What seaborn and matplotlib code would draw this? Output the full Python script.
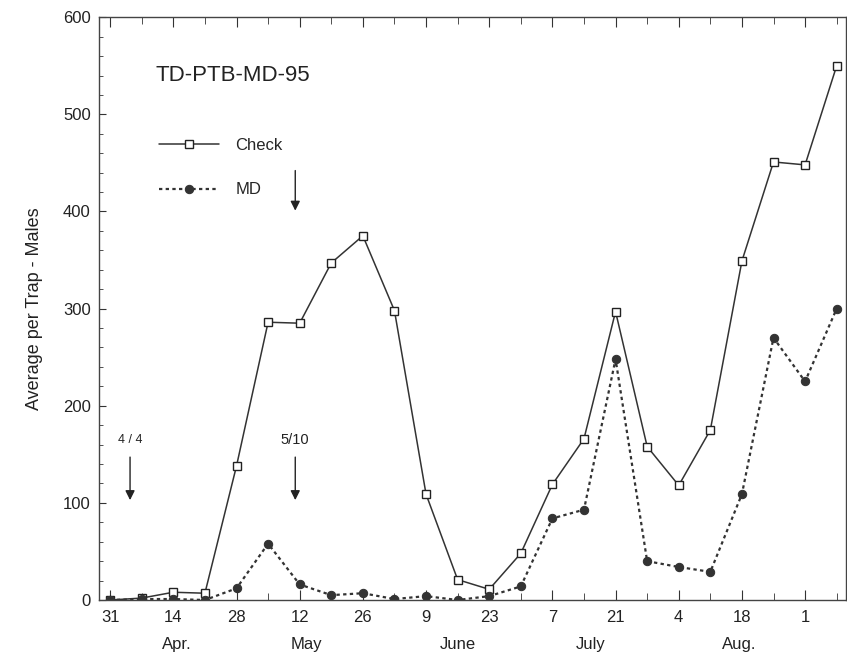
import numpy as np
import pandas as pd
import seaborn as sns
import matplotlib.pyplot as plt

# weekly trap dates (Mar 31 .. Sep 8)
week_labels = ["31", "7", "14", "21", "28", "5", "12", "19", "26", "2", "9", "16",
               "23", "30", "7", "14", "21", "28", "4", "11", "18", "25", "1", "8"]
check = [0, 2, 8, 7, 138, 286, 285, 347, 375, 298, 109, 21,
         11, 48, 119, 166, 297, 158, 118, 175, 349, 451, 448, 550]
md = [0, 1, 1, 0, 12, 58, 16, 5, 7, 1, 4, 0,
      4, 14, 84, 93, 248, 40, 34, 29, 109, 270, 225, 300]
months = ["Apr.", "May", "June", "July", "Aug."]
month_pos = [2.1, 6.2, 11.0, 15.2, 19.9]

sns.set_style("ticks")
plt.rcParams["font.family"] = ["Liberation Sans", "DejaVu Sans"]

df = pd.DataFrame({"week": np.arange(len(week_labels)), "Check": check, "MD": md})

fig = plt.figure(figsize=(8.47, 6.63), dpi=100)
ax = fig.add_axes([0.117, 0.095, 0.882, 0.879])

sns.lineplot(data=df, x="week", y="Check", ax=ax, color="#333333", lw=1.1,
             marker="s", markersize=5.8, markerfacecolor="white",
             markeredgecolor="#222222", markeredgewidth=1.0, label="Check")
sns.lineplot(data=df, x="week", y="MD", ax=ax, color="#333333", lw=1.6,
             linestyle=(0, (1.5, 1.5)), marker="o", markersize=6,
             markerfacecolor="#333333", markeredgecolor="#333333", label="MD")

ax.set_xlim(-0.35, 23.3)
ax.set_ylim(0, 600)
ax.set_xticks(df["week"][::2])
ax.set_xticklabels(week_labels[::2], fontsize=12)
ax.set_xticks(df["week"], minor=True)
ax.set_yticks(range(0, 601, 100))
ax.set_yticks(range(0, 601, 20), minor=True)
ax.tick_params(axis="both", which="both", direction="in", top=True, right=False,
               colors="#333333", labelcolor="#222222")
ax.tick_params(axis="x", which="major", length=7, pad=7)
ax.tick_params(axis="x", which="minor", length=5)
ax.tick_params(axis="y", which="major", length=5, labelsize=12, pad=6)
ax.tick_params(axis="y", which="minor", length=3)
for s in ax.spines.values():
    s.set_color("#444444")
    s.set_linewidth(1.0)
ax.set_xlabel("")
ax.set_ylabel("Average per Trap - Males", fontsize=13, labelpad=14, color="#222222")

for m, p in zip(months, month_pos):
    ax.text(p, -46, m, ha="center", va="center", fontsize=12, color="#222222")

ax.text(1.42, 540, "TD-PTB-MD-95", fontsize=16, va="center", ha="left", color="#222222")

ax.legend(loc="upper left", bbox_to_anchor=(0.06, 0.818), frameon=False,
          handlelength=3.6, fontsize=12, labelspacing=1.75, handletextpad=1.0,
          numpoints=1)

# treatment arrows
arrow = dict(arrowstyle="-|>", color="#222222", lw=1.0, mutation_scale=14)
ax.annotate("", xy=(0.63, 100), xytext=(0.63, 150), arrowprops=arrow)
ax.text(0.63, 165, "4 / 4", ha="center", va="center", fontsize=9, color="#222222")
ax.annotate("", xy=(5.86, 100), xytext=(5.86, 150), arrowprops=arrow)
ax.text(5.86, 165, "5/10", ha="center", va="center", fontsize=10.5, color="#222222")
ax.annotate("", xy=(5.86, 398), xytext=(5.86, 445), arrowprops=arrow)

fig.savefig("out.png", dpi=100)
